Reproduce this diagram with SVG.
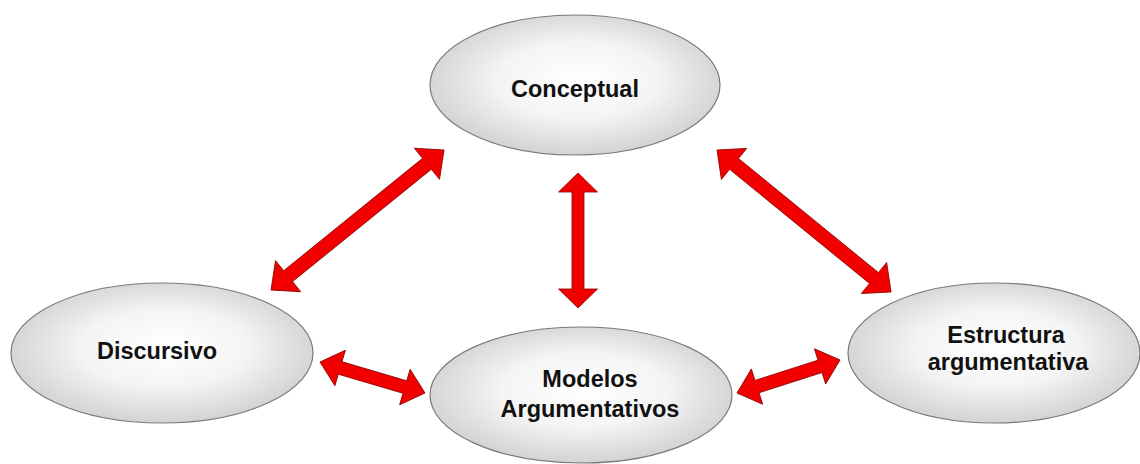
<svg xmlns="http://www.w3.org/2000/svg" width="1140" height="464" viewBox="0 0 1140 464">
<defs>
<radialGradient id="g" cx="50%" cy="48%" r="55%" fx="52%" fy="45%">
<stop offset="0" stop-color="#ffffff"/>
<stop offset="0.5" stop-color="#f4f4f4"/>
<stop offset="1" stop-color="#cfcfcf"/>
</radialGradient>
</defs>
<style>
.node ellipse{fill:url(#g);stroke:#7a7a7a;stroke-width:1.2}
.node text{font-family:"Liberation Sans",Arial,sans-serif;font-weight:bold;font-size:23.5px;fill:#111;text-anchor:middle}
.arr{fill:#f20000;stroke:#8a0000;stroke-width:0.8;stroke-linejoin:miter}
</style>
<rect width="1140" height="464" fill="#ffffff"/>
<g id="connectors">
<path class="arr" transform="translate(271,290) rotate(-38.98)" d="M0,0 L22,-20 L22,-7 L200.6,-7 L200.6,-20 L222.6,0 L200.6,20 L200.6,7 L22,7 L22,20 Z"/>
<path class="arr" transform="translate(578,173) rotate(90)" d="M0,0 L19,-19.5 L19,-6 L116,-6 L116,-19.5 L135,0 L116,19.5 L116,6 L19,6 L19,19.5 Z"/>
<path class="arr" transform="translate(717,150) rotate(39.2)" d="M0,0 L22,-20 L22,-7 L202.6,-7 L202.6,-20 L224.6,0 L202.6,20 L202.6,7 L22,7 L22,20 Z"/>
<path class="arr" transform="translate(320,362) rotate(16.45)" d="M0,0 L21,-18.5 L21,-6.5 L88.5,-6.5 L88.5,-18.5 L109.5,0 L88.5,18.5 L88.5,6.5 L21,6.5 L21,18.5 Z"/>
<path class="arr" transform="translate(737,393) rotate(-17.77)" d="M0,0 L21,-18.5 L21,-6.5 L87.2,-6.5 L87.2,-18.5 L108.2,0 L87.2,18.5 L87.2,6.5 L21,6.5 L21,18.5 Z"/>
</g>
<g id="conceptual" class="node">
<ellipse cx="575" cy="85" rx="145" ry="70"/>
<text x="575" y="97">Conceptual</text>
</g>
<g id="discursivo" class="node">
<ellipse cx="162" cy="353" rx="151" ry="70"/>
<text x="157" y="359">Discursivo</text>
</g>
<g id="modelos" class="node">
<ellipse cx="581" cy="395" rx="151" ry="68"/>
<text x="590" y="387">Modelos</text>
<text x="590" y="417">Argumentativos</text>
</g>
<g id="estructura" class="node">
<ellipse cx="994" cy="353" rx="146" ry="70"/>
<text x="1006" y="343">Estructura</text>
<text x="1008" y="370">argumentativa</text>
</g>
</svg>
